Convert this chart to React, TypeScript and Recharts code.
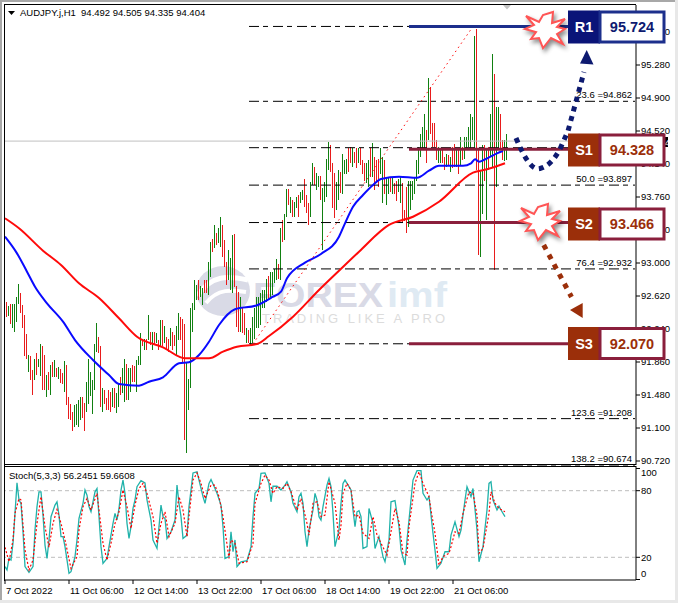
import React from 'react';
import { Bar, Cell, ComposedChart, Line, LineChart, ReferenceLine, XAxis, YAxis } from 'recharts';

const font = '"Liberation Sans", Arial, sans-serif';
const BAR_SLOTS = 316;

const highs = [
  92.55, 92.50, 92.53, 92.53, 92.53, 92.61, 92.76, 92.65, 92.52, 92.40,
  92.18, 91.94, 91.93, 91.77, 91.89, 91.96, 91.90, 92.07, 92.05, 91.94,
  91.71, 91.75, 91.83, 91.86, 91.88, 91.79, 91.80, 91.78, 91.73, 91.87,
  91.83, 91.46, 91.38, 91.29, 91.36, 91.38, 91.42, 91.46, 91.46, 91.39,
  91.63, 91.89, 91.75, 91.65, 92.07, 92.31, 92.15, 92.04, 91.56, 91.54,
  91.44, 91.54, 91.52, 91.56, 91.56, 91.50, 91.61, 91.69, 91.79, 91.89,
  91.84, 91.79, 91.79, 91.83, 91.81, 91.88, 91.93, 92.19, 92.13, 92.13,
  92.13, 92.40, 92.21, 92.21, 92.21, 92.19, 92.11, 92.34, 92.34, 92.27,
  92.15, 92.13, 92.25, 92.21, 92.17, 92.27, 92.43, 92.38, 92.36, 92.30,
  91.85, 91.67, 92.48, 92.54, 92.80, 92.75, 92.80, 92.73, 92.71, 92.80,
  92.80, 93.01, 93.24, 93.28, 93.44, 93.34, 93.40, 93.53, 93.44, 93.26,
  93.01, 93.15, 93.06, 93.32, 93.33, 92.73, 92.67, 92.61, 92.48, 92.42,
  92.25, 92.23, 92.25, 92.38, 92.48, 92.61, 92.61, 92.65, 92.69, 92.69,
  92.82, 92.85, 92.90, 92.90, 92.93, 93.05, 92.99, 93.40, 93.49, 93.57,
  93.85, 93.85, 93.76, 93.73, 93.70, 93.76, 93.78, 93.82, 93.84, 93.97,
  93.78, 93.69, 93.93, 94.15, 94.10, 94.04, 94.00, 94.00, 93.86, 93.93,
  94.20, 94.39, 94.36, 94.15, 94.04, 93.93, 94.07, 94.05, 94.26, 94.19,
  94.20, 94.32, 94.34, 94.32, 94.28, 94.32, 94.32, 94.32, 94.19, 94.15,
  94.15, 94.19, 94.32, 94.38, 94.22, 94.19, 94.20, 94.32, 94.22, 94.19,
  93.99, 93.99, 93.99, 93.99, 93.92, 93.94, 93.97, 93.99, 93.92, 93.61,
  93.88, 93.95, 93.95, 93.95, 93.99, 94.19, 94.34, 94.49, 94.57, 94.72,
  94.53, 95.13, 95.03, 94.61, 94.61, 94.42, 94.34, 94.30, 94.32, 94.22,
  94.26, 94.24, 94.22, 94.34, 94.37, 94.32, 94.32, 94.45, 94.34, 94.45,
  94.45, 94.57, 94.72, 94.68, 95.61, 95.70, 94.30, 94.07, 94.36, 94.36,
  94.32, 94.34, 94.72, 95.41, 95.18, 94.80, 94.80, 94.72, 94.42, 94.42,
  94.49,
];

const lows = [
  92.38, 92.39, 92.30, 92.25, 92.21, 92.32, 92.53, 92.42, 92.25, 91.93,
  91.89, 91.75, 91.65, 91.48, 91.65, 91.71, 91.80, 91.70, 91.54, 91.54,
  91.46, 91.54, 91.48, 91.69, 91.69, 91.69, 91.67, 91.62, 91.61, 91.51,
  91.36, 91.20, 91.19, 91.06, 91.11, 91.13, 91.11, 91.19, 91.21, 91.06,
  91.29, 91.38, 91.47, 91.26, 91.54, 91.98, 91.96, 91.34, 91.28, 91.38,
  91.31, 91.31, 91.29, 91.34, 91.33, 91.27, 91.34, 91.48, 91.50, 91.40,
  91.42, 91.42, 91.52, 91.63, 91.63, 91.51, 91.83, 91.83, 92.04, 92.00,
  92.00, 92.11, 92.06, 92.00, 92.06, 92.08, 92.00, 92.04, 92.04, 92.08,
  92.00, 91.98, 92.04, 92.00, 92.04, 91.94, 92.11, 92.11, 91.86, 90.96,
  90.81, 91.31, 91.56, 92.21, 92.46, 92.57, 92.57, 92.61, 92.52, 92.65,
  92.65, 92.63, 92.84, 93.13, 93.17, 93.21, 93.23, 93.18, 93.07, 92.95,
  92.75, 92.80, 92.69, 92.65, 92.72, 92.26, 92.21, 92.21, 92.19, 92.17,
  92.08, 92.08, 92.06, 92.08, 92.13, 92.25, 92.25, 92.29, 92.48, 92.48,
  92.55, 92.57, 92.61, 92.63, 92.77, 92.81, 92.82, 92.80, 93.24, 93.26,
  93.53, 93.67, 93.58, 93.53, 93.53, 93.63, 93.53, 93.69, 93.73, 93.64,
  93.58, 93.44, 93.53, 93.90, 93.90, 93.84, 93.87, 93.73, 93.15, 93.70,
  93.76, 94.07, 94.05, 93.63, 93.52, 93.61, 93.73, 93.81, 93.80, 94.03,
  94.03, 94.05, 94.15, 94.11, 94.15, 94.09, 94.15, 94.13, 94.03, 93.95,
  93.92, 93.88, 93.99, 93.99, 93.84, 93.92, 93.88, 94.03, 93.69, 93.80,
  93.67, 93.80, 93.82, 93.80, 93.80, 93.71, 93.82, 93.69, 93.46, 93.48,
  93.35, 93.42, 93.61, 93.73, 93.80, 93.95, 94.03, 94.22, 94.32, 94.32,
  94.15, 94.42, 94.49, 94.34, 94.34, 94.19, 94.15, 94.15, 94.15, 94.07,
  94.11, 94.13, 94.05, 94.09, 94.11, 94.11, 94.03, 94.13, 94.19, 94.20,
  94.30, 94.34, 94.32, 94.42, 94.30, 94.07, 93.09, 93.07, 93.57, 93.95,
  93.49, 94.07, 94.22, 94.11, 92.92, 93.88, 94.30, 94.30, 94.19, 94.17,
  94.19,
];

// 1 = bullish (green), 0 = bearish (red)
const upBars = [
  0, 1, 0, 1, 1, 1, 1, 0, 0, 0, 0, 1, 0, 0, 1, 0, 1, 1, 0, 0,
  1, 0, 1, 0, 1, 0, 1, 0, 0, 1, 0, 0, 0, 0, 1, 1, 1, 1, 0, 0,
  1, 1, 1, 1, 1, 1, 0, 0, 1, 0, 0, 0, 0, 1, 0, 1, 1, 0, 1, 1,
  0, 1, 1, 0, 0, 1, 1, 1, 0, 1, 0, 1, 0, 1, 0, 1, 0, 1, 0, 1,
  0, 0, 1, 0, 0, 1, 1, 0, 0, 0, 1, 1, 1, 1, 1, 1, 0, 1, 1, 0,
  0, 1, 1, 0, 1, 0, 1, 1, 0, 0, 0, 1, 1, 1, 0, 0, 0, 1, 0, 0,
  1, 0, 1, 1, 1, 1, 1, 1, 1, 1, 1, 0, 1, 1, 1, 1, 0, 1, 0, 1,
  1, 0, 1, 0, 1, 1, 0, 1, 1, 0, 0, 0, 1, 1, 0, 1, 1, 0, 1, 1,
  1, 1, 0, 0, 0, 1, 1, 0, 1, 1, 1, 0, 0, 1, 0, 0, 1, 0, 0, 0,
  1, 1, 0, 1, 0, 0, 0, 1, 1, 0, 1, 1, 0, 1, 0, 0, 1, 1, 0, 0,
  0, 1, 1, 1, 1, 1, 1, 1, 1, 1, 0, 1, 0, 0, 0, 0, 1, 1, 0, 0,
  1, 0, 1, 0, 0, 1, 0, 1, 0, 1, 1, 1, 1, 1, 1, 0, 0, 1, 1, 0,
  1, 0, 1, 1, 0, 1, 1, 0, 0, 1, 1,
];

// moving averages, read at their bends
const fastMaBars = [0, 6, 11, 15, 21, 29, 35, 44, 52, 57, 67, 72, 79, 87, 92, 97, 102, 107, 115, 126, 134, 138, 141, 150, 158, 167, 170, 174, 179, 184, 188, 197, 206, 212, 217, 229, 233, 235, 237, 242, 246, 249];
const fastMa = [93.303, 93.111, 92.900, 92.727, 92.536, 92.324, 92.113, 91.883, 91.710, 91.607, 91.587, 91.633, 91.684, 91.845, 91.857, 91.941, 92.094, 92.286, 92.467, 92.513, 92.612, 92.670, 92.824, 93.004, 93.104, 93.303, 93.457, 93.648, 93.783, 93.898, 93.967, 93.994, 93.982, 94.063, 94.120, 94.120, 94.148, 94.194, 94.167, 94.217, 94.263, 94.290];
const slowMaBars = [0, 7, 19, 28, 37, 47, 57, 66, 79, 90, 102, 109, 116, 126, 132, 144, 157, 167, 177, 192, 204, 217, 234, 241, 250];
const slowMa = [93.515, 93.400, 93.142, 92.977, 92.766, 92.597, 92.363, 92.151, 92.029, 91.903, 91.903, 91.979, 92.036, 92.067, 92.159, 92.382, 92.689, 92.911, 93.130, 93.438, 93.533, 93.706, 94.040, 94.079, 94.148];

const stochKBars = [0, 1, 2, 3, 4, 5, 6, 7, 8, 9, 10, 12, 14, 15, 16, 17, 18, 19, 20, 21, 22, 23, 25, 26, 27, 28, 29, 30, 31, 32, 33, 35, 36, 37, 39, 40, 41, 42, 43, 45, 46, 47, 48, 49, 51, 52, 54, 55, 56, 57, 58, 59, 60, 61, 62, 63, 64, 65, 66, 68, 70, 71, 73, 74, 76, 77, 78, 79, 80, 81, 83, 85, 86, 87, 88, 89, 91, 92, 93, 94, 96, 97, 99, 100, 102, 103, 105, 106, 108, 109, 110, 112, 113, 114, 115, 116, 118, 121, 123, 124, 125, 127, 128, 130, 132, 133, 134, 136, 138, 140, 141, 143, 144, 146, 147, 148, 149, 150, 151, 152, 154, 155, 156, 157, 158, 159, 161, 162, 163, 164, 165, 167, 168, 169, 170, 172, 173, 174, 175, 176, 177, 178, 179, 181, 182, 184, 185, 187, 189, 190, 192, 193, 195, 197, 198, 200, 201, 203, 204, 206, 208, 209, 211, 212, 214, 215, 216, 218, 220, 222, 223, 225, 227, 228, 230, 231, 233, 234, 236, 237, 239, 241, 242, 243, 244, 246, 247, 248, 250];
const stochK = [11.6, 8.6, 19, 17.6, 32.6, 59.6, 87.2, 71.6, 68.6, 43, 11.6, 6.5, 11.6, 44.6, 65.6, 79, 79, 58, 31, 19, 35.6, 56.6, 67, 70, 58, 38.6, 38.6, 29.6, 17.6, 5.6, 7, 20.6, 35.6, 55, 68.6, 80.6, 76, 65.6, 61, 79, 82, 56.6, 29.6, 14.6, 19, 29.6, 50.6, 59.6, 53.6, 64, 80.6, 89.6, 77.6, 50.6, 37, 47.6, 64, 71.6, 83.6, 89, 87, 71.6, 53.6, 35.6, 28, 47.6, 67, 56.6, 55, 37, 43, 53.6, 85, 68.6, 56.6, 37, 40, 65.6, 80.6, 96, 97, 89.6, 74.6, 68.6, 86.6, 90, 82, 77.6, 67, 47.6, 19, 20.6, 43, 25, 35.6, 11.6, 16, 17, 29.6, 56.6, 77.6, 82, 95.6, 96, 86.6, 70, 84, 84, 80.6, 85, 88, 79, 68.6, 61, 74.6, 77.6, 68.6, 43, 29.6, 44.6, 62.6, 77.6, 71.6, 56.6, 53.6, 65.6, 85, 91, 83.6, 59.6, 29.6, 44.6, 68.6, 86.6, 89.6, 83.6, 80.6, 62.6, 47.6, 61, 62, 56.6, 28, 29.6, 64, 50.6, 28, 38.6, 20.6, 16, 35.6, 70, 71, 47.6, 26.6, 13, 35.6, 71.6, 89.6, 98, 98, 77.6, 71.6, 74.6, 41.6, 26.6, 10, 14.6, 25, 25, 40, 52, 38.6, 44.6, 71.6, 83.6, 74.6, 82, 44.6, 16, 29.6, 62.6, 86.6, 88, 71.6, 62.6, 66, 62.6, 56.6];
const stochDBars = [0, 2, 4, 5, 7, 8, 10, 12, 14, 16, 18, 20, 22, 24, 26, 28, 30, 33, 36, 37, 39, 41, 43, 46, 47, 49, 51, 53, 55, 57, 59, 61, 63, 65, 67, 69, 71, 74, 76, 78, 80, 82, 85, 87, 89, 91, 92, 94, 96, 98, 100, 103, 105, 107, 109, 112, 113, 115, 117, 121, 124, 125, 128, 130, 132, 134, 136, 139, 141, 143, 146, 148, 151, 152, 154, 156, 158, 160, 162, 165, 167, 168, 169, 171, 173, 175, 177, 179, 182, 184, 186, 188, 191, 192, 195, 197, 199, 201, 202, 205, 207, 209, 212, 213, 215, 217, 219, 222, 223, 225, 227, 229, 232, 234, 236, 237, 239, 242, 243, 245, 247, 250];
const stochD = [29, 16, 35.6, 59.6, 73, 71.6, 26.6, 8.6, 17.6, 50.6, 74.6, 47.6, 29, 50.6, 63, 50.6, 35.6, 10, 20.6, 44.6, 65.6, 73, 62.6, 77.6, 62.6, 32.6, 17.6, 32.6, 50.6, 61, 80.6, 65.6, 46, 67, 82, 86.6, 77.6, 56.6, 32.6, 50.6, 61, 38.6, 50.6, 74.6, 62.6, 38.6, 56.6, 89.6, 96, 86.6, 73, 85, 85, 74.6, 56.6, 19, 35.6, 32.6, 14.6, 16, 32.6, 68.6, 86.6, 94, 89.6, 77.6, 83.6, 82, 86.6, 79, 62.6, 73, 50.6, 40, 68.6, 70, 56.6, 58, 88, 68.6, 35.6, 49, 77.6, 86.6, 80.6, 56.6, 58, 41.6, 37, 56.6, 40, 32.6, 22, 32.6, 64, 52, 23.6, 22, 47.6, 86.6, 97, 86.6, 74.6, 62.6, 41.6, 13, 20.6, 23.6, 29.6, 43, 41.6, 59.6, 79, 77.6, 58, 23.6, 28, 59.6, 79, 68.6, 64, 61];

const priceTicks = [95.66, 95.28, 94.9, 94.52, 94.14, 93.76, 93.38, 93.0, 92.62, 92.24, 91.86, 91.48, 91.1, 90.72];
const fibLevels = [95.724, 94.862, 94.328, 93.897, 93.466, 92.932, 92.07, 91.208, 90.674];
const fibLabels = ['', '23.6 =94.862', '', '50.0 =93.897', '', '76.4 =92.932', '', '123.6 =91.208', '138.2 =90.674'];
const stochTicks = [0, 20, 80, 100];
const timeTicks = [0, 32, 64, 96, 128, 160, 192, 224];
const timeLabels = ['7 Oct 2022', '11 Oct 06:00', '12 Oct 14:00', '13 Oct 22:00', '17 Oct 06:00', '18 Oct 14:00', '19 Oct 22:00', '21 Oct 06:00'];

const pick = (bars: number[], values: number[], i: number) => {
  const at = bars.indexOf(i);
  return at < 0 ? null : values[at];
};

const rows = Array.from({ length: BAR_SLOTS }, (_, i) => ({
  bar: i,
  range: i < highs.length ? [lows[i], highs[i]] : null,
  fast: pick(fastMaBars, fastMa, i),
  slow: pick(slowMaBars, slowMa, i),
  k: pick(stochKBars, stochK, i),
  d: pick(stochDBars, stochD, i),
}));

// one pixel wide, on whole pixels, like the terminal draws its bars
const HairBar = (p: any) =>
  p.height ? (
    <rect x={Math.ceil(p.x + p.width / 2)} y={p.y} width={1} height={p.height} fill={p.fill} shapeRendering="crispEdges" />
  ) : null;

const TimeTick = (props: any) => {
  const at = timeTicks.indexOf(props.payload.value);
  return (
    <text x={props.x + 1} y={props.y + 7.5} fontSize={9.5} fontFamily={font} fill="#000">
      {timeLabels[at]}
    </text>
  );
};

const StochTick = (props: any) => {
  const v = props.payload.value;
  const shift = v === 100 ? 4.5 : v === 0 ? -6.5 : 0;
  return (
    <text x={props.x} y={props.y + shift + 3.5} fontSize={9.5} fontFamily={font} fill="#000">
      {v}
    </text>
  );
};

const STAR = [[-19, -14], [-6, -8], [-2, -15], [8, -18], [7, -7], [20, -11], [12, -3], [20, -1], [12, 4], [18, 14], [6, 8], [-2, 18], [-6, 8], [-14, 9], [-9, 2], [-20, -1], [-11, -5]];

const Star = ({ cx, cy }: { cx: number; cy: number }) => (
  <polygon
    points={STAR.map(([x, y]) => `${cx + x},${cy + y}`).join(' ')}
    fill="#fff"
    stroke="#ff5555"
    strokeWidth={2}
    style={{ filter: 'drop-shadow(2px 3px 2px rgba(0,0,0,0.45))' }}
  />
);

const LevelBox = ({ y, name, value, fill, border, color }: any) => (
  <g fontFamily={font} fontWeight="bold" fontSize={14.5}>
    <rect x={568} y={y} width={32} height={33} fill={fill} />
    <rect x={600} y={y + 1.5} width={64} height={30} fill="#fff" stroke={border} strokeWidth={3} />
    <text x={584} y={y + 21.5} fill="#fff" textAnchor="middle">{name}</text>
    <text x={632} y={y + 21.5} fill={color} textAnchor="middle">{value}</text>
  </g>
);

export default function App() {
  return (
    <div style={{ position: 'absolute', left: 0, top: 0, width: 678, height: 603, overflow: 'hidden', background: '#fff' }}>
      {/* frame and watermark, under the charts */}
      <svg width={678} height={603} style={{ position: 'absolute', left: 0, top: 0 }}>
        <rect x={0} y={0} width={678} height={2} fill="#a8a8a8" />
        <rect x={0} y={0} width={2} height={603} fill="#a8a8a8" />
        <rect x={675} y={0} width={3} height={603} fill="#e8e8e8" />
        <rect x={0} y={600} width={678} height={3} fill="#e8e8e8" />
        <ellipse cx={223} cy={291} rx={27} ry={25} fill="#d9dae6" />
        <path d="M197,296 C212,274 228,276 248,280" fill="none" stroke="#fff" strokeWidth={5} />
        <path d="M206,303 C218,288 232,290 246,292" fill="none" stroke="#fff" strokeWidth={4} />
        <text x={253} y={307} fontFamily={font} fontWeight="bold" fontSize={35} textLength={130} lengthAdjust="spacingAndGlyphs" fill="#d9dae6">FOREX</text>
        <text x={387} y={307} fontFamily={font} fontWeight="bold" fontSize={35} textLength={60} lengthAdjust="spacingAndGlyphs" fill="#dfeaf3">imf</text>
        <text x={262} y={323} fontFamily={font} fontSize={13} textLength={183} lengthAdjust="spacing" fill="#dcdcdc">TRADING LIKE A PRO</text>
      </svg>

      <div style={{ position: 'absolute', left: 0, top: 0 }}>
        <ComposedChart width={678} height={470} data={rows} margin={{ top: 5, right: 0, bottom: 5, left: 4 }} barCategoryGap={0}>
          <XAxis dataKey="bar" hide />
          <YAxis
            orientation="right"
            yAxisId={0}
            width={42}
            domain={[90.674, 95.971]}
            ticks={priceTicks}
            interval={0}
            allowDataOverflow
            tickFormatter={(v: number) => v.toFixed(3)}
            tick={{ fontSize: 9.5, fontFamily: font, fill: '#000', textAnchor: 'start' }}
            tickSize={4}
            tickMargin={1}
            axisLine={{ stroke: '#000' }}
            tickLine={{ stroke: '#000' }}
          />
          <ReferenceLine y={94.404} stroke="#c0c0c0" />
          {fibLevels.map((level, i) => (
            <ReferenceLine
              key={level}
              segment={[{ x: 122, y: level }, { x: 315, y: level }]}
              stroke="#000"
              strokeDasharray="10 4 5 5"
              label={fibLabels[i] ? { value: fibLabels[i], position: 'insideBottomRight', offset: 3, fontSize: 9.5, fontFamily: font, fill: '#000' } : undefined}
            />
          ))}
          <Bar dataKey="range" barSize={1} shape={HairBar} isAnimationActive={false}>
            {rows.map((r) => (
              <Cell key={r.bar} fill={upBars[r.bar] ? '#118011' : '#e81c1c'} />
            ))}
          </Bar>
          <Line dataKey="fast" type="monotone" stroke="#0a0aff" strokeWidth={2} dot={false} connectNulls isAnimationActive={false} />
          <Line dataKey="slow" type="monotone" stroke="#ff0a0a" strokeWidth={2} dot={false} connectNulls isAnimationActive={false} />
          <ReferenceLine segment={[{ x: 124, y: 92.07 }, { x: 234, y: 95.724 }]} stroke="#ff0a0a" strokeDasharray="1.5 3.5" />
          <ReferenceLine segment={[{ x: 202, y: 95.724 }, { x: 282, y: 95.724 }]} stroke="#1c2f8c" strokeWidth={3} />
          <ReferenceLine segment={[{ x: 202, y: 94.31 }, { x: 282, y: 94.31 }]} stroke="#8a1f3c" strokeWidth={3} />
          <ReferenceLine segment={[{ x: 202, y: 93.466 }, { x: 282, y: 93.466 }]} stroke="#8a1f3c" strokeWidth={3} />
          <ReferenceLine segment={[{ x: 202, y: 92.07 }, { x: 282, y: 92.07 }]} stroke="#8a1f3c" strokeWidth={3} />
        </ComposedChart>
      </div>

      <div style={{ position: 'absolute', left: 0, top: 466 }}>
        <LineChart width={678} height={137} data={rows} margin={{ top: 0, right: 0, bottom: 0, left: 4 }}>
          <XAxis
            dataKey="bar"
            scale="band"
            ticks={timeTicks}
            interval={0}
            height={23}
            tickSize={4}
            tick={<TimeTick />}
            axisLine={{ stroke: '#000' }}
            tickLine={{ stroke: '#000' }}
          />
          <YAxis
            orientation="right"
            width={42}
            domain={[-0.45, 102.25]}
            ticks={stochTicks}
            interval={0}
            allowDataOverflow
            tickSize={4}
            tickMargin={1}
            tick={<StochTick />}
            axisLine={{ stroke: '#000' }}
            tickLine={{ stroke: '#000' }}
          />
          <ReferenceLine y={80} stroke="#bdbdbd" strokeDasharray="4 3" />
          <ReferenceLine y={20} stroke="#bdbdbd" strokeDasharray="4 3" />
          <Line dataKey="k" stroke="#20b2aa" strokeWidth={1.3} dot={false} connectNulls isAnimationActive={false} />
          <Line dataKey="d" stroke="#ff0000" strokeWidth={1.2} strokeDasharray="2 2" dot={false} connectNulls isAnimationActive={false} />
        </LineChart>
      </div>

      {/* chart window lines, titles and the drawn annotations */}
      <svg width={678} height={603} style={{ position: 'absolute', left: 0, top: 0 }}>
        <rect x={4} y={4} width={632} height={1} fill="#000" />
        <rect x={4} y={4} width={1} height={577} fill="#000" />
        <rect x={4} y={464} width={632} height={1} fill="#000" />
        <rect x={4} y={466} width={632} height={1} fill="#000" />
        <polygon points="503,5 511,5 507,9.5" fill="#c4c4c4" />
        <polygon points="8,11 15,11 11.5,15" fill="#000" />
        <text x={20} y={16} fontFamily={font} fontSize={9.5} fill="#000" xmlSpace="preserve">AUDJPY.j,H1  94.492 94.505 94.335 94.404</text>
        <text x={9} y={479} fontFamily={font} fontSize={9.5} fill="#000">Stoch(5,3,3) 56.2451 59.6608</text>

        <rect x={636} y={137} width={32} height={10} fill="#000" />
        <text x={641} y={145.5} fontFamily={font} fontSize={9.5} fill="#fff">94.404</text>

        <path d="M516,138 Q530,172 540,168.5 Q551,166 560,149 L568,131 L584,72" fill="none" stroke="#0d1a70" strokeWidth={5} strokeDasharray="5 5" />
        <polygon points="586.7,50 580,63.5 593.5,64.5" fill="#0d1a70" />
        <path d="M543.7,245 L571.5,297" fill="none" stroke="#9b2f0a" strokeWidth={5} strokeDasharray="5 6" />
        <polygon points="582.7,303 570,310 582.7,318" fill="#9b2f0a" />

        <Star cx={545} cy={30} />
        <Star cx={540} cy={222} />
        <LevelBox y={10.5} name="R1" value="95.724" fill="#0a1478" border="#1c2f8c" color="#0d1a70" />
        <LevelBox y={133.5} name="S1" value="94.328" fill="#9b2f0a" border="#8a1f3c" color="#9b2f0a" />
        <LevelBox y={207.5} name="S2" value="93.466" fill="#9b2f0a" border="#8a1f3c" color="#9b2f0a" />
        <LevelBox y={327} name="S3" value="92.070" fill="#9b2f0a" border="#8a1f3c" color="#9b2f0a" />
      </svg>
    </div>
  );
}
